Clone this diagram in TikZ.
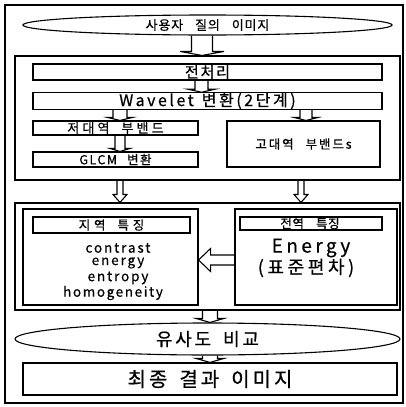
\documentclass[tikz,border=0pt]{standalone}
\usepackage{fontspec}
\setmainfont{Noto Sans CJK KR}
\usetikzlibrary{shapes.geometric,calc}
\newcommand\myfs[2]{\fontsize{#1}{#1}\selectfont\addfontfeatures{LetterSpace=#2,FakeBold=0.6}}
\newcommand\wg[1]{\hspace{#1pt}}
\newcommand\vdarrow[5]{%
  \draw[arr] let \p1=(#1), \p2=(#2) in
    (\x1-#3pt,\y1) -- (\x1-#3pt,\y2+#5pt) -- (\x1-#4pt,\y2+#5pt) -- (\x1,\y2)
    -- (\x1+#4pt,\y2+#5pt) -- (\x1+#3pt,\y2+#5pt) -- (\x1+#3pt,\y1);}
\newcommand\hlarrow[5]{%
  \draw[arr] let \p1=(#1), \p2=(#2) in
    (\x1,\y1+#3pt) -- (\x2+#5pt,\y1+#3pt) -- (\x2+#5pt,\y1+#4pt) -- (\x2,\y1)
    -- (\x2+#5pt,\y1-#4pt) -- (\x2+#5pt,\y1-#3pt) -- (\x1,\y1-#3pt);}
\tikzset{
  box/.style={draw, line width=1.1pt, rectangle, inner sep=0pt},
  ell/.style={draw, line width=1.1pt, ellipse, inner sep=0pt},
  arr/.style={draw, line width=1.1pt, line join=miter},
  txt/.style={inner sep=0pt},
}
\begin{document}
\begin{tikzpicture}[x=1pt,y=-1pt]
\useasboundingbox (0,0) rectangle (406,407);
\node[box, minimum width=398pt, minimum height=398pt] (frame) at (204,204) {};
% top
\node[ell, minimum width=369pt, minimum height=20pt, font=\myfs{13}{6}] (q) at (207.5,25) {사용자\wg{12}질의\wg{12}이미지};
% processing box
\node[box, minimum width=385pt, minimum height=124pt] (box1) at (207.5,118) {};
\node[box, minimum width=349pt, minimum height=16pt, font=\myfs{15}{12}] (pre) at (207.5,72) {전처리};
\node[box, minimum width=349pt, minimum height=16pt, font=\myfs{16}{16}] (wav) at (207.5,101) {Wavelet\wg{8}변환(2단계)};
\node[box, minimum width=165pt, minimum height=14pt, font=\myfs{13}{24}] (low) at (115.5,128) {저대역\wg{12}부밴드};
\node[box, minimum width=165pt, minimum height=15pt, font=\myfs{12.5}{12}] (glcm) at (115.5,159.5) {GLCM\wg{10}변환};
\node[box, minimum width=153pt, minimum height=46pt, font=\myfs{12.5}{15}] (high) at (303.5,144) {고대역\wg{12}부밴드s};
% feature box
\node[box, minimum width=385pt, minimum height=107pt] (box2) at (207.5,256.5) {};
\node[box, minimum width=175pt, minimum height=96pt] (loc) at (110.5,257) {};
\node[box, minimum width=157pt, minimum height=16pt, font=\myfs{12.5}{30}] (loct) at (111.5,225) {지역\wg{12}특징};
\node[txt, font=\myfs{13.5}{14}] (t1) at (118,248) {contrast};
\node[txt, font=\myfs{13.5}{14}] (t2) at (118,263) {energy};
\node[txt, font=\myfs{13.5}{14}] (t3) at (118,278) {entropy};
\node[txt, font=\myfs{13.5}{12}] (t4) at (113,293) {homogeneity};
\node[box, minimum width=142pt, minimum height=13pt] (globt) at (311,223.5) {};
\node[txt, font=\myfs{12.5}{5}] (globtt) at (310,223.5) {전역\wg{12}특징};
\node[box, minimum width=162pt, minimum height=96pt] (glob) at (316,257) {};
\node[txt, font=\myfs{19}{18}] (en) at (311,248) {Energy};
\node[txt, font=\myfs{18}{20}] (sd) at (306,268) {(표준편차)};
% bottom
\node[ell, minimum width=385pt, minimum height=32pt, font=\myfs{18}{15}] (sim) at (207.5,339) {유사도\wg{12}비교};
\node[box, minimum width=374pt, minimum height=32pt, font=\myfs{20}{15}] (final) at (210,379) {최종\wg{12}결과\wg{12}이미지};
% arrows
\vdarrow{202,0 |- q.south}{202,0 |- box1.north}{10.5}{22}{4}
\vdarrow{201.5,0 |- pre.south}{201.5,0 |- wav.north}{6.5}{13.5}{3}
\vdarrow{120,0 |- wav.south}{120,0 |- low.north}{7}{12.5}{3}
\vdarrow{306,0 |- wav.south}{306,0 |- high.north}{6}{12}{3}
\vdarrow{120,0 |- low.south}{120,0 |- glcm.north}{5}{10}{3}
\vdarrow{120,0 |- box1.south}{120,0 |- box2.north}{3}{7}{8}
\vdarrow{301,0 |- box1.south}{301,0 |- box2.north}{3}{7}{8}
\hlarrow{glob.west |- 0,260}{loc.east |- 0,260}{5}{11.5}{12}
\vdarrow{210,0 |- box2.south}{210,0 |- sim.north}{7.5}{14}{4}
\vdarrow{210,0 |- sim.south}{210,0 |- final.north}{7.5}{14}{4}
\end{tikzpicture}
\end{document}
